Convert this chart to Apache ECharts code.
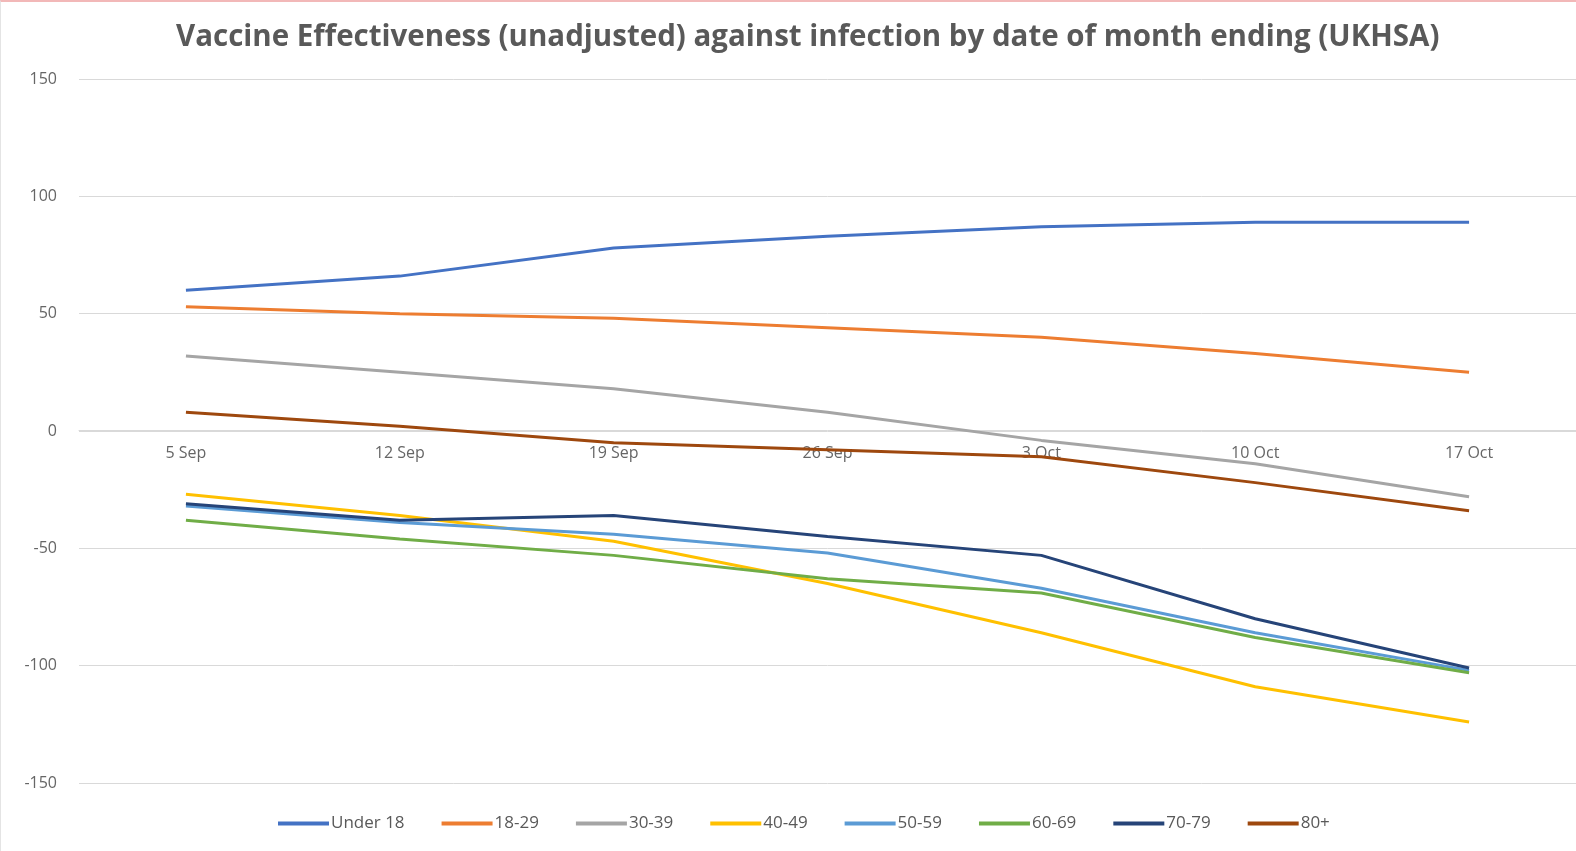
<!DOCTYPE html>
<html>
<head>
<meta charset="utf-8">
<script src="https://cdn.jsdelivr.net/npm/echarts@6/dist/echarts.min.js"></script>
<style>
  html, body { margin: 0; padding: 0; background: #fff; }
  #chart { width: 1576px; height: 851px; box-sizing: border-box; border-top: 2px solid #f2b8b8; border-left: 1px solid #e4e4e4; }
</style>
</head>
<body>
<div id="chart"></div>
<script>
const dates = ['5 Sep', '12 Sep', '19 Sep', '26 Sep', '3 Oct', '10 Oct', '17 Oct']
const groups = ['Under 18', '18-29', '30-39', '40-49', '50-59', '60-69', '70-79', '80+']
const colors = ['#4472C4', '#ED7D31', '#A5A5A5', '#FFC000', '#5B9BD5', '#70AD47', '#264478', '#9E480E']

const under18 = [60, 66, 78, 83, 87, 89, 89]
const age18to29 = [53, 50, 48, 44, 40, 33, 25]
const age30to39 = [32, 25, 18, 8, -4, -14, -28]
const age40to49 = [-27, -36, -47, -65, -86, -109, -124]
const age50to59 = [-32, -39, -44, -52, -67, -86, -102]
const age60to69 = [-38, -46, -53, -63, -69, -88, -103]
const age70to79 = [-31, -38, -36, -45, -53, -80, -101]
const age80plus = [8, 2, -5, -8, -11, -22, -34]

const values = [under18, age18to29, age30to39, age40to49, age50to59, age60to69, age70to79, age80plus]

const Y_MIN = -150
const Y_MAX = 150
const GRID_TOP = 77
const GRID_BOTTOM = 68
const CHART_H = 851

// the category labels sit on the zero line, like Excel's axis crossing
const gridH = CHART_H - GRID_TOP - GRID_BOTTOM
const zeroOffset = -gridH * (0 - Y_MIN) / (Y_MAX - Y_MIN)

const chart = echarts.init(document.getElementById('chart'))
chart.setOption({
  animation: false,
  color: colors,
  title: {
    text: 'Vaccine Effectiveness (unadjusted) against infection by date of month ending (UKHSA)',
    left: 170,
    top: 16,
    textStyle: { fontFamily: 'Open Sans', fontWeight: 'bold', fontSize: 29.5, color: '#595959' }
  },
  grid: { left: 78, right: 0, top: GRID_TOP, bottom: GRID_BOTTOM },
  legend: {
    bottom: 14,
    left: 272,
    itemWidth: 51,
    itemHeight: 4,
    itemGap: 37,
    icon: 'rect',
    textStyle: { fontFamily: 'Open Sans', fontSize: 17, color: '#595959', padding: [0, 0, 0, -3] },
    data: groups
  },
  xAxis: {
    type: 'category',
    data: dates,
    boundaryGap: true,
    offset: zeroOffset,
    axisLine: { onZero: false, lineStyle: { color: '#d9d9d9' } },
    axisTick: { show: false },
    axisLabel: { color: '#666666', fontFamily: 'Open Sans', fontSize: 16, margin: 15 }
  },
  yAxis: {
    type: 'value',
    min: Y_MIN,
    max: Y_MAX,
    interval: 50,
    axisLine: { show: false },
    axisTick: { show: false },
    axisLabel: { color: '#666666', fontFamily: 'Open Sans', fontSize: 16, margin: 22 },
    splitLine: { lineStyle: { color: '#d9d9d9', width: 1 } }
  },
  series: groups.map((name, i) => ({
    name: name,
    type: 'line',
    data: values[i],
    symbol: 'none',
    lineStyle: { width: 3 }
  }))
})
</script>
</body>
</html>
